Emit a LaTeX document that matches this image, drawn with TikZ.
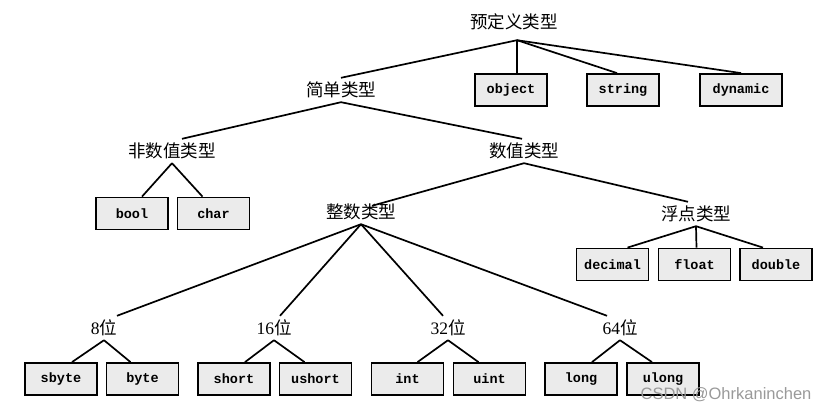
\documentclass[tikz,border=0pt]{standalone}
\usepackage{fontspec}
\setmainfont{Liberation Serif}
\setmonofont{Liberation Mono}
\newfontfamily\cjk{Noto Sans CJK SC}
\newfontfamily\wmfont{Liberation Sans}
\begin{document}
\begin{tikzpicture}[x=1pt,y=-1pt,
  lbl/.style={inner sep=0pt,minimum height=24pt,font=\cjk\fontsize{17.5}{18}\selectfont},
  typebox/.style={draw=black,line width=1.8pt,fill=black!8,minimum width=72pt,minimum height=32pt,inner sep=0pt,font=\ttfamily\bfseries\fontsize{13.5}{14}\selectfont},
  edge/.style={line width=1.7pt}]
\useasboundingbox (0,0) rectangle (828,412);
% labels
\node[lbl] (root) at (514,22) {预定义类型};
\node[lbl] (simple) at (341,90) {简单类型};
\node[lbl] (nonnum) at (172,151) {非数值类型};
\node[lbl] (num) at (524,151) {数值类型};
\node[lbl] (integ) at (361,212) {整数类型};
\node[lbl] (flt) at (696,214) {浮点类型};
\node[lbl] (b8) at (104,328) {{\rmfamily 8}位};
\node[lbl] (b16) at (274,328) {{\rmfamily 16}位};
\node[lbl] (b32) at (448,328) {{\rmfamily 32}位};
\node[lbl] (b64) at (620,328) {{\rmfamily 64}位};
% boxes
\node[typebox] (object) at (511,90) {object};
\node[typebox] (string) at (623,90) {string};
\node[typebox,minimum width=82pt] (dynamic) at (741,90) {dynamic};
\node[typebox] (bool) at (132,213.5) {bool};
\node[typebox] (char) at (213.5,213.5) {char};
\node[typebox] (decimal) at (612.5,264.5) {decimal};
\node[typebox] (float) at (694.5,264.5) {float};
\node[typebox] (double) at (776,264.5) {double};
\node[typebox] (sbyte) at (61,379) {sbyte};
\node[typebox] (byte) at (142.5,379) {byte};
\node[typebox] (short) at (234,379) {short};
\node[typebox] (ushort) at (315.5,379) {ushort};
\node[typebox] (int) at (407.5,379) {int};
\node[typebox] (uint) at (489.5,379) {uint};
\node[typebox] (long) at (581,379) {long};
\node[typebox] (ulong) at (663,379) {ulong};
% connectors
\coordinate (rs) at ([xshift=3pt,yshift=-6pt]root.south);
\draw[edge] (rs) -- (simple.north);
\draw[edge] (rs) -- ([xshift=6pt]object.north);
\draw[edge] (rs) -- ([xshift=-6pt]string.north);
\draw[edge] (rs) -- (dynamic.north);
\draw[edge] (simple.south) -- ([xshift=10pt]nonnum.north);
\draw[edge] (simple.south) -- ([xshift=-2pt]num.north);
\draw[edge] (nonnum.south) -- ([xshift=10pt]bool.north);
\draw[edge] (nonnum.south) -- ([xshift=-11pt]char.north);
\draw[edge] (num.south) -- ([xshift=11pt,yshift=-6pt]integ.north);
\draw[edge] (num.south) -- ([xshift=-8pt]flt.north);
\draw[edge] (flt.south) -- ([xshift=15pt]decimal.north);
\draw[edge] (flt.south) -- ([xshift=2pt]float.north);
\draw[edge] (flt.south) -- ([xshift=-13pt]double.north);
\draw[edge] (integ.south) -- ([xshift=13pt]b8.north);
\draw[edge] (integ.south) -- ([xshift=6pt]b16.north);
\draw[edge] (integ.south) -- ([xshift=-5pt]b32.north);
\draw[edge] (integ.south) -- ([xshift=-13pt]b64.north);
\draw[edge] (b8.south) -- ([xshift=11pt]sbyte.north);
\draw[edge] (b8.south) -- ([xshift=-12pt]byte.north);
\draw[edge] (b16.south) -- ([xshift=11pt]short.north);
\draw[edge] (b16.south) -- ([xshift=-11pt]ushort.north);
\draw[edge] (b32.south) -- ([xshift=10pt]int.north);
\draw[edge] (b32.south) -- ([xshift=-11pt]uint.north);
\draw[edge] (b64.south) -- ([xshift=11pt]long.north);
\draw[edge] (b64.south) -- ([xshift=-11pt]ulong.north);
% watermark
\node[font=\wmfont\fontsize{16.5}{18}\selectfont,text=black!40,inner sep=0pt] (wm) at (726,395) {CSDN @Ohrkaninchen};
\end{tikzpicture}
\end{document}
